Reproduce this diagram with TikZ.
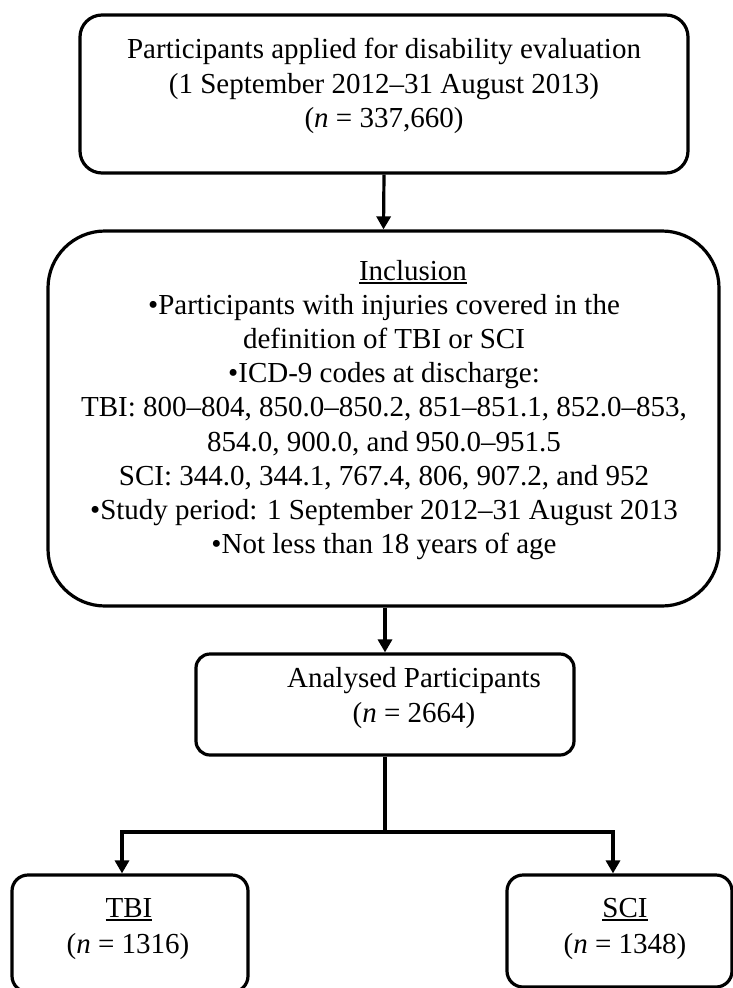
\documentclass[tikz,border=0pt]{standalone}
\usepackage{fontspec}
\setmainfont{Liberation Serif}
\usetikzlibrary{arrows.meta}
\newcommand\myul[1]{\setbox0\hbox{#1}\rlap{\rule[-3.5pt]{\wd0}{1.6pt}}\box0}
\begin{document}
\begin{tikzpicture}[x=1pt,y=-1pt,
  box/.style={draw, line width=3.2pt, rectangle, inner sep=0pt},
  txt/.style={anchor=base, inner sep=0pt, font=\fontsize{29pt}{35pt}\selectfont},
  arr/.style={line width=3.2pt, -{Triangle[length=13pt,width=14pt]}},
  ln/.style={line width=3.2pt}]
\useasboundingbox (0,0) rectangle (733,988);

% boxes
\node[box, rounded corners=22pt, minimum width=608pt, minimum height=158pt] (top) at (384,94) {};
\node[box, rounded corners=57pt, minimum width=671pt, minimum height=375pt] (inc) at (383.5,418.5) {};
\node[box, rounded corners=14pt, minimum width=378pt, minimum height=101pt] (an) at (385,704.5) {};
\node[box, rounded corners=16pt, minimum width=236pt, minimum height=117pt] (tbi) at (130,933.5) {};
\node[box, rounded corners=16pt, minimum width=225pt, minimum height=112pt] (sci) at (619.5,931) {};

% texts
\node[txt] (t1) at (384,58) {Participants applied for disability evaluation};
\node[txt] (t2) at (384,93) {(1 September 2012–31 August 2013)};
\node[txt] (t3) at (384,127) {(\textit{n} = 337,660)};

\node[txt] (i1) at (413,280) {\myul{Inclusion}};
\node[txt] (i2) at (384,314.2) {•Participants with injuries covered in the};
\node[txt] (i3) at (384,348.4) {definition of TBI or SCI};
\node[txt] (i4) at (384,382.6) {•ICD-9 codes at discharge:};
\node[txt] (i5) at (384,416.8) {TBI: 800–804, 850.0–850.2, 851–851.1, 852.0–853,};
\node[txt] (i6) at (384,451) {854.0, 900.0, and 950.0–951.5};
\node[txt] (i7) at (384,485.2) {SCI: 344.0, 344.1, 767.4, 806, 907.2, and 952};
\node[txt] (i8) at (384,519.4) {•Study period: 1 September 2012–31 August 2013};
\node[txt] (i9) at (384,553.6) {•Not less than 18 years of age};

\node[txt] (a1) at (414,687) {Analysed Participants};
\node[txt] (a2) at (414,722) {(\textit{n} = 2664)};

\node[txt] (b1) at (129,917) {\myul{TBI}};
\node[txt] (b2) at (128,953) {(\textit{n} = 1316)};
\node[txt] (c1) at (625,917) {\myul{SCI}};
\node[txt] (c2) at (625,953) {(\textit{n} = 1348)};

% connectors
\draw[arr] (top.south) -- (inc.north);
\draw[arr] (an.north |- inc.south) -- (an.north);
\coordinate (split) at (385,832);
\draw[ln] (an.south) -- (split);
\draw[arr] (split) -| ([xshift=-8pt]tbi.north);
\draw[arr] (split) -| ([xshift=-6.5pt]sci.north);
\end{tikzpicture}
\end{document}
